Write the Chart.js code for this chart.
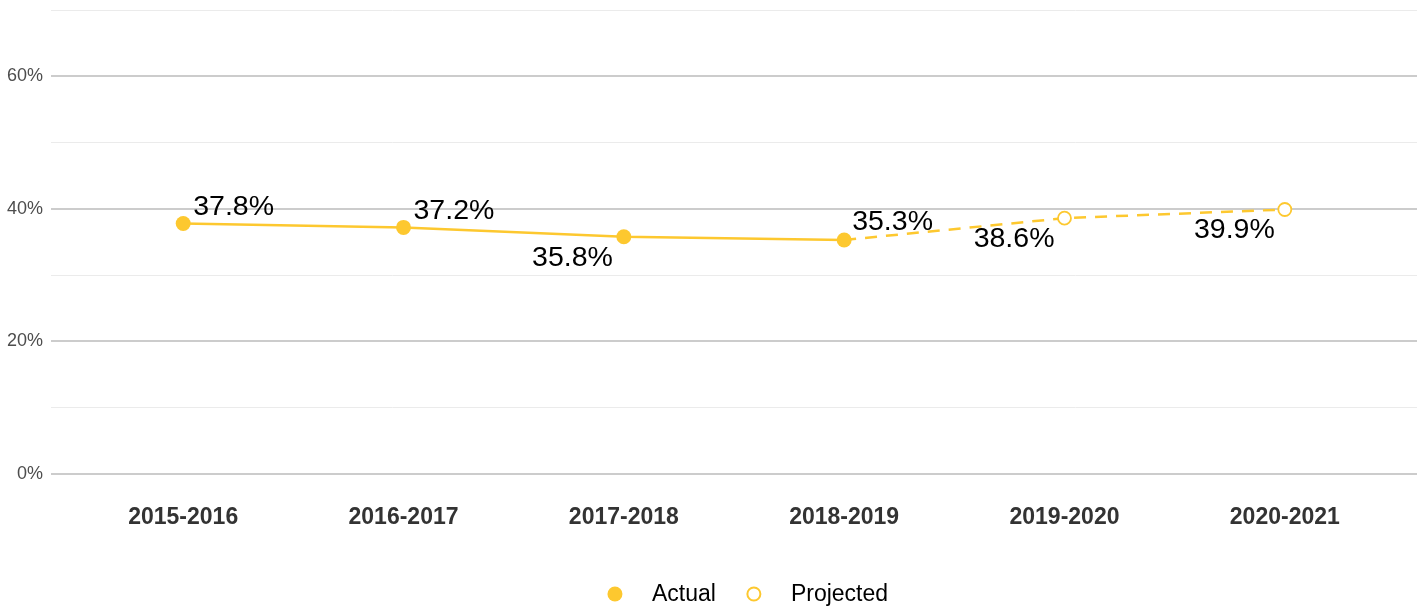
<!DOCTYPE html>
<html>
<head>
<meta charset="utf-8">
<script src="https://cdn.jsdelivr.net/npm/chart.js@4/dist/chart.umd.min.js"></script>
<style>
  html, body { margin: 0; padding: 0; background: #ffffff; overflow: hidden; }
  #wrap { width: 1421px; height: 607px; position: relative; }
</style>
</head>
<body>
<div id="wrap"><canvas id="c"></canvas></div>
<script>
// ---- data ----
const categories = ["2015-2016", "2016-2017", "2017-2018", "2018-2019", "2019-2020", "2020-2021"];
const actualValues = [37.8, 37.2, 35.8, 35.3, null, null];
const projectedValues = [null, null, null, 35.3, 38.6, 39.9];
const yTickValues = [0, 10, 20, 30, 40, 50, 60, 70];

const YELLOW = '#FDC82F';
const FONT = '"Liberation Sans", Arial, Helvetica, sans-serif';

// label placement (styling)
const labelPlacement = [
  { dx: 10, dy: -16, align: 'left' },
  { dx: 10, dy: -16, align: 'left' },
  { dx: -11, dy: 21, align: 'right' },
  { dx: 8, dy: -18, align: 'left' },
  { dx: -10, dy: 21, align: 'right' },
  { dx: -10, dy: 21, align: 'right' }
];

const valueLabels = {
  id: 'valueLabels',
  afterDatasetsDraw(chart) {
    const ctx = chart.ctx;
    const xs = chart.scales.x, ys = chart.scales.y;
    ctx.save();
    ctx.font = '28.5px ' + FONT;
    ctx.fillStyle = '#000000';
    ctx.textBaseline = 'middle';
    categories.forEach((c, i) => {
      const v = actualValues[i] != null ? actualValues[i] : projectedValues[i];
      if (v == null) return;
      const p = labelPlacement[i];
      ctx.textAlign = p.align;
      ctx.fillText(v.toFixed(1) + '%', xs.getPixelForValue(i) + p.dx, ys.getPixelForValue(v) + p.dy);
    });
    ctx.restore();
  }
};

const customLegend = {
  id: 'customLegend',
  afterDraw(chart) {
    const ctx = chart.ctx;
    ctx.save();
    ctx.font = '23px ' + FONT;
    ctx.textBaseline = 'middle';
    const y = 594;
    const markerW = 14, gapText = 30, gapItem = 31;
    const items = chart.data.datasets.map(ds => ({ ds, w: markerW + gapText + ctx.measureText(ds.label).width }));
    const total = items.reduce((s, it) => s + it.w, 0) + gapItem * (items.length - 1);
    let x = 748 - total / 2;
    items.forEach(it => {
      const ds = it.ds;
      ctx.beginPath();
      ctx.arc(x + markerW / 2, y, ds.legendRadius, 0, Math.PI * 2);
      ctx.fillStyle = ds.legendFill;
      ctx.fill();
      if (ds.legendStroke) {
        ctx.lineWidth = 2;
        ctx.strokeStyle = ds.borderColor;
        ctx.stroke();
      }
      ctx.fillStyle = '#000000';
      ctx.textAlign = 'left';
      ctx.fillText(ds.label, x + markerW + gapText, y + 1);
      x += it.w + gapItem;
    });
    ctx.restore();
  }
};

new Chart(document.getElementById('c'), {
  type: 'line',
  data: {
    labels: categories,
    datasets: [
      {
        label: 'Actual',
        data: actualValues.map((v, i) => ({ x: i, y: v })),
        borderColor: YELLOW,
        backgroundColor: YELLOW,
        pointBackgroundColor: YELLOW,
        pointBorderColor: YELLOW,
        borderWidth: 2.5,
        pointRadius: 7.5,
        pointBorderWidth: 0,
        pointHoverRadius: 7.5,
        spanGaps: false,
        legendRadius: 7.5,
        legendFill: YELLOW,
        legendStroke: false
      },
      {
        label: 'Projected',
        data: projectedValues.map((v, i) => ({ x: i, y: v })),
        borderColor: YELLOW,
        backgroundColor: '#ffffff',
        pointBackgroundColor: '#ffffff',
        pointBorderColor: YELLOW,
        borderWidth: 2.5,
        borderDash: [12, 9],
        pointRadius: c => (actualValues[c.dataIndex] != null ? 0 : 6.5),
        pointBorderWidth: 1.8,
        spanGaps: false,
        legendRadius: 6.5,
        legendFill: '#ffffff',
        legendStroke: true
      }
    ]
  },
  options: {
    responsive: true,
    maintainAspectRatio: false,
    animation: false,
    layout: { autoPadding: false, padding: { top: 10, right: 4, bottom: 0, left: 0 } },
    plugins: {
      legend: { display: false },
      tooltip: { enabled: false }
    },
    scales: {
      x: {
        type: 'linear',
        min: -0.6,
        max: 5.6,
        afterBuildTicks: axis => { axis.ticks = categories.map((c, i) => ({ value: i })); },
        afterFit: axis => {
          axis.height = 133;
          axis.paddingLeft = 0; axis.paddingRight = 0; axis.paddingTop = 0; axis.paddingBottom = 0;
        },
        grid: { display: false, drawTicks: false },
        border: { display: false },
        ticks: {
          padding: 30,
          autoSkip: false,
          maxRotation: 0,
          color: '#333333',
          font: { family: FONT, size: 23, weight: 'bold' },
          callback: v => categories[v]
        }
      },
      y: {
        min: 0,
        max: 70,
        afterBuildTicks: axis => { axis.ticks = yTickValues.map(v => ({ value: v })); },
        afterFit: axis => {
          axis.width = 51;
          axis.paddingTop = 0; axis.paddingBottom = 0; axis.paddingLeft = 0; axis.paddingRight = 0;
        },
        grid: {
          drawTicks: false,
          color: c => (c.tick && c.tick.value % 20 === 0 ? '#cccccc' : '#ebebeb'),
          lineWidth: c => (c.tick && c.tick.value % 20 === 0 ? 2 : 1)
        },
        border: { display: false },
        ticks: {
          padding: 8,
          color: '#4d4d4d',
          font: { family: FONT, size: 18 },
          callback: v => (v % 20 === 0 ? v + '%' : '')
        }
      }
    }
  },
  plugins: [valueLabels, customLegend]
});
</script>
</body>
</html>
